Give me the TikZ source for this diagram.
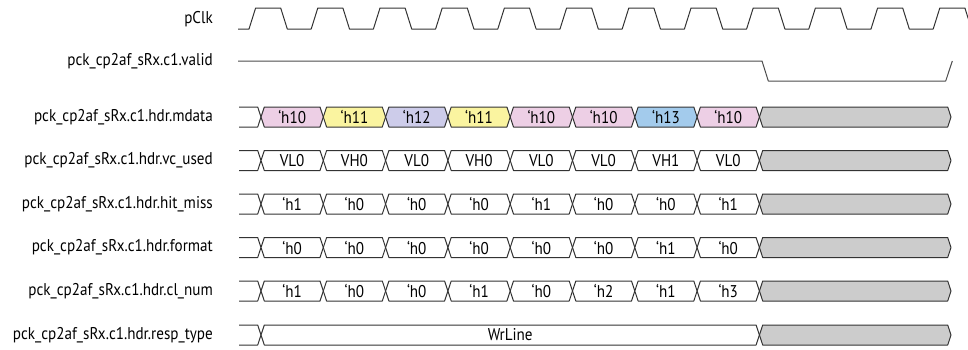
\documentclass[tikz,border=0pt]{standalone}
\usepackage{fontspec}
\setmainfont[FakeStretch=0.89]{PT Sans}
\definecolor{cpink}{RGB}{237,207,229}
\definecolor{cyel}{RGB}{250,244,160}
\definecolor{clav}{RGB}{205,204,234}
\definecolor{cblue}{RGB}{163,203,236}
\definecolor{cgrey}{RGB}{204,204,204}
\def\P{62.3}
\def\tz{261}
\def\hh{3.3}
\newcommand\busrow[3]{%
  \draw[wave] (239,#2-10) -- ({\tz-\hh},#2-10) -- (\tz,#2) -- ({\tz-\hh},#2+10) -- (239,#2+10);
  \foreach \a/\b/\c/\t [count=\i] in {#3} {
    \pgfmathsetmacro\xa{\tz+\a*\P}
    \pgfmathsetmacro\xb{\b>8 ? 951 : \tz+\b*\P}
    \draw[wave, fill=\c] (\xa,#2) -- (\xa+\hh,#2-10) -- (\xb-\hh,#2-10) -- (\xb,#2) -- (\xb-\hh,#2+10) -- (\xa+\hh,#2+10) -- cycle;
    \node[val] (#1-\i) at ({(\xa+\xb)/2},#2) {\t};
  }%
}
\begin{document}
\begin{tikzpicture}[x=1pt,y=-1pt,
  wave/.style={draw=black!80, line width=1pt, line join=round},
  lbl/.style={anchor=east, font=\fontsize{17}{19}\selectfont, inner sep=0pt},
  val/.style={font=\fontsize{17}{19}\selectfont, inner sep=0pt}]
\useasboundingbox (0,0) rectangle (968,349);
\begin{scope}
\clip (0,0) rectangle (968,349);
% labels
\node[lbl] (lclk) at (213,19) {pClk};
\node[lbl] (lval) at (213,61) {pck\_cp2af\_sRx.c1.valid};
\node[lbl] (lmd)  at (213,117) {pck\_cp2af\_sRx.c1.hdr.mdata};
\node[lbl] (lvc)  at (213,160.5) {pck\_cp2af\_sRx.c1.hdr.vc\_used};
\node[lbl] (lhm)  at (213,204) {pck\_cp2af\_sRx.c1.hdr.hit\_miss};
\node[lbl] (lfm)  at (213,247.5) {pck\_cp2af\_sRx.c1.hdr.format};
\node[lbl] (lcl)  at (213,291) {pck\_cp2af\_sRx.c1.hdr.cl\_num};
\node[lbl] (lrt)  at (213,335) {pck\_cp2af\_sRx.c1.hdr.resp\_type};
% clock
\draw[wave] (238,29) \foreach \k in {0,...,11}{
  -- ({249+\k*62.2},29) -- ({255.6+\k*62.2},8) -- ({280.7+\k*62.2},8) -- ({287.3+\k*62.2},29) };
% valid
\draw[wave, draw=black!70] (238,61) -- (762,61) -- (768.3,81) -- (945.7,81) -- (952.3,61);
% buses
\busrow{md}{117}{0/1/cpink/‘h10, 1/2/cyel/‘h11, 2/3/clav/‘h12, 3/4/cyel/‘h11, 4/5/cpink/‘h10, 5/6/cpink/‘h10, 6/7/cblue/‘h13, 7/8/cpink/‘h10, 8/9/cgrey/}
\busrow{vc}{160.5}{0/1/white/VL0, 1/2/white/VH0, 2/3/white/VL0, 3/4/white/VH0, 4/5/white/VL0, 5/6/white/VL0, 6/7/white/VH1, 7/8/white/VL0, 8/9/cgrey/}
\busrow{hm}{204}{0/1/white/‘h1, 1/2/white/‘h0, 2/3/white/‘h0, 3/4/white/‘h0, 4/5/white/‘h1, 5/6/white/‘h0, 6/7/white/‘h0, 7/8/white/‘h1, 8/9/cgrey/}
\busrow{fm}{247.5}{0/1/white/‘h0, 1/2/white/‘h0, 2/3/white/‘h0, 3/4/white/‘h0, 4/5/white/‘h0, 5/6/white/‘h0, 6/7/white/‘h1, 7/8/white/‘h0, 8/9/cgrey/}
\busrow{cl}{291}{0/1/white/‘h1, 1/2/white/‘h0, 2/3/white/‘h0, 3/4/white/‘h1, 4/5/white/‘h0, 5/6/white/‘h2, 6/7/white/‘h1, 7/8/white/‘h3, 8/9/cgrey/}
\busrow{rt}{335}{0/8/white/WrLine, 8/9/cgrey/}
\end{scope}
\end{tikzpicture}
\end{document}
